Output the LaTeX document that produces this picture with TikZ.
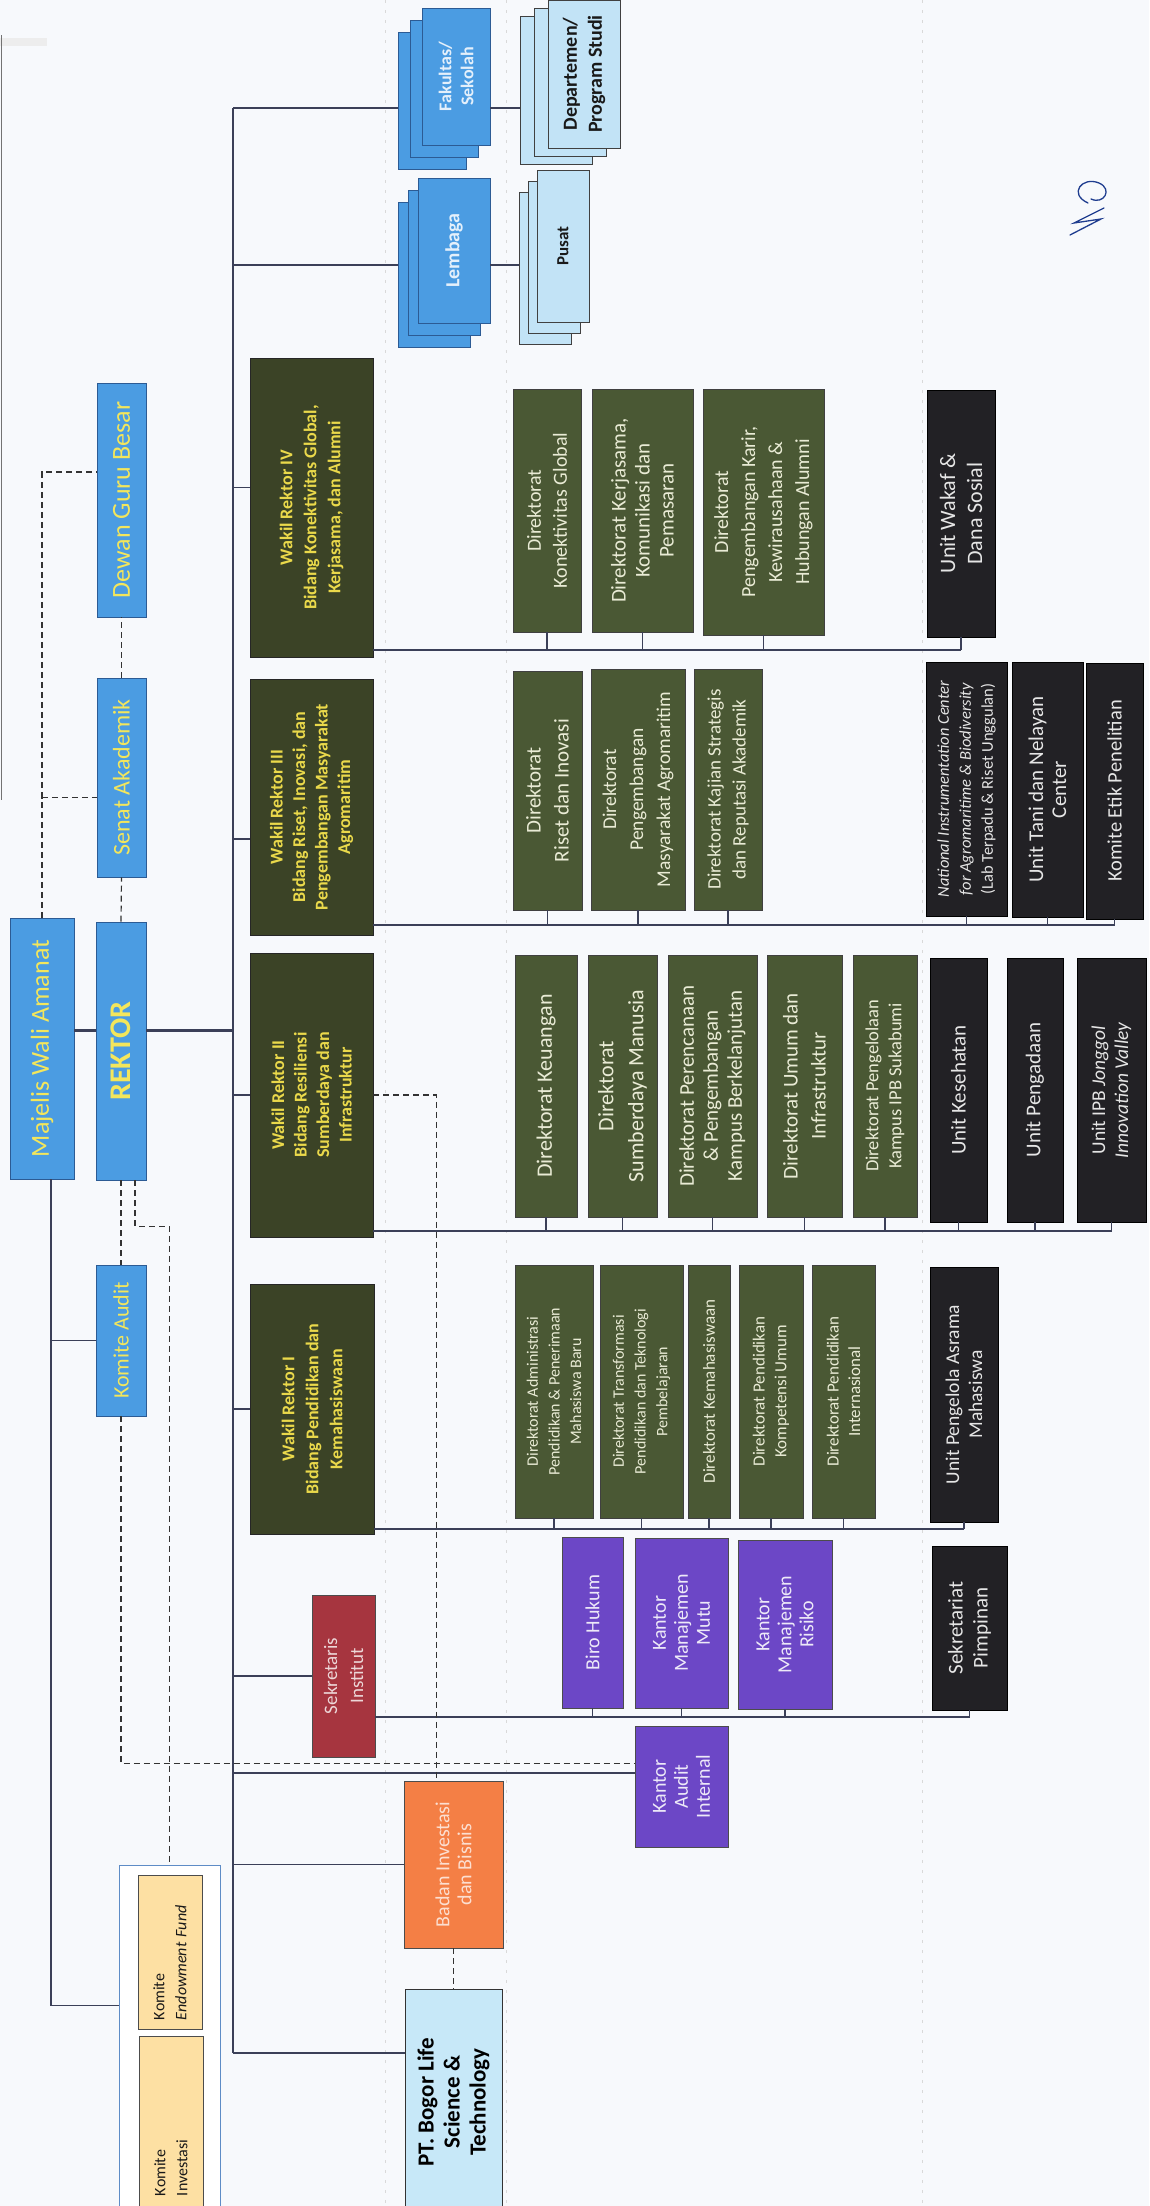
\documentclass[tikz,border=0pt]{standalone}
\usepackage{fontspec}
\setmainfont{Carlito}
\usetikzlibrary{positioning}

\definecolor{paper}{HTML}{F7F9FC}
\definecolor{wablue}{HTML}{4B9CE2}
\definecolor{waedge}{HTML}{2C5B94}
\definecolor{wayellow}{HTML}{F3E65C}
\definecolor{wrgreen}{HTML}{3B4326}
\definecolor{wryellow}{HTML}{EAD94B}
\definecolor{dirgreen}{HTML}{4A5834}
\definecolor{dirtext}{HTML}{E9EBD5}
\definecolor{unitblack}{HTML}{222125}
\definecolor{ofcpurple}{HTML}{6C47C6}
\definecolor{sekred}{HTML}{A6353F}
\definecolor{bizorange}{HTML}{F47F45}
\definecolor{ptblue}{HTML}{C7E8F8}
\definecolor{kmtan}{HTML}{FDE0A3}
\definecolor{kmedge}{HTML}{5E8CC6}
\definecolor{ltblue}{HTML}{C2E3F6}
\definecolor{linegray}{HTML}{3B4058}
\definecolor{inkblue}{HTML}{1F3D8F}

\newcommand{\fsz}[2]{\fontsize{#1}{#2}\selectfont}

\tikzset{
  orgbox/.style={rotate=90, align=center, inner sep=1pt, line width=0.9pt},
  topbox/.style={orgbox, fill=wablue, draw=waedge, text=wayellow, font=\fsz{24}{26}},
  wrbox/.style={orgbox, fill=wrgreen, draw=black!85, text=wryellow, font=\bfseries\fsz{18}{22.5}},
  dirbox/.style={orgbox, fill=dirgreen, draw=black!75, text=dirtext, font=\fsz{20}{26}},
  unitbox/.style={orgbox, fill=unitblack, draw=black, text=white!90!black, font=\fsz{21}{24}},
  ofcbox/.style={orgbox, fill=ofcpurple, draw=black!70, text=white!88!ofcpurple, font=\fsz{20}{22}},
  sekbox/.style={orgbox, fill=sekred, draw=black!70, text=white!80!sekred, font=\fsz{19}{26}},
  bizbox/.style={orgbox, fill=bizorange, draw=black!70, text=white!75!bizorange, font=\fsz{20}{22}},
  ptbox/.style={orgbox, fill=ptblue, draw=black!80, text=black, font=\bfseries\fsz{23}{26}},
  kmbox/.style={orgbox, fill=kmtan, draw=black!70, text=black!90, font=\fsz{16}{22}, text width=136pt, align=left},
  facbox/.style={orgbox, fill=wablue, draw=waedge, text=white!85!wablue, font=\bfseries\fsz{18}{22}},
  subbox/.style={orgbox, fill=ltblue, draw=black!75, text=black!90, font=\bfseries\fsz{20}{25}},
  conn/.style={draw=linegray, line width=1.1pt},
  thickconn/.style={draw=linegray, line width=3pt},
  dconn/.style={draw=black!80, line width=1.2pt, dash pattern=on 6pt off 4pt},
  guide/.style={draw=black!15, line width=0.6pt, dash pattern=on 3pt off 7pt}
}

\begin{document}
\begin{tikzpicture}[x=1pt, y=-1pt]
\useasboundingbox (0,0) rectangle (1149,2206);
\clip (0,0) rectangle (1149,2206);
\fill[paper] (0,0) rectangle (1149,2206);
% faint guides of the scan
\draw[guide] (385,0) -- (385,2206);
\draw[guide] (506,0) -- (506,2206);
\draw[guide] (922,0) -- (922,2206);
\fill[black!7] (0,38) rectangle (47,46);
\draw[black!55, line width=1pt] (1.5,35) -- (1.5,800);

%%% board, rector and committees
\node[topbox, minimum width=261pt, minimum height=64pt, font=\fsz{26}{28}] (majelis) at (42,1048.5) {Majelis Wali Amanat};
\node[topbox, minimum width=258pt, minimum height=50pt, font=\bfseries\fsz{30}{32}] (rektor) at (121,1051) {REKTOR};
\node[topbox, minimum width=199pt, minimum height=49pt] (senat) at (121.5,777.5) {Senat Akademik};
\node[topbox, minimum width=234pt, minimum height=49pt, font=\fsz{26}{28}] (dewan) at (121.5,500) {Dewan Guru Besar};
\node[topbox, minimum width=151pt, minimum height=50pt, font=\fsz{22}{24}] (kaudit) at (121,1340.5) {Komite Audit};
\node[orgbox, draw=kmedge, fill=white, minimum width=365pt, minimum height=101pt] (komite) at (169.5,2047.5) {};
\node[kmbox, minimum width=154pt, minimum height=64pt] (kend) at (170,1952) {Komite\\\textit{Endowment Fund}};
\node[kmbox, minimum width=184pt, minimum height=64pt] (kinv) at (171,2128) {Komite\\Investasi};

%%% vice rectors
\node[wrbox, minimum width=299pt, minimum height=123pt, font=\bfseries\fsz{18}{24}] (wr4) at (311.5,507.5) {Wakil Rektor IV\\Bidang Konektivitas Global,\\Kerjasama, dan Alumni};
\node[wrbox, minimum width=256pt, minimum height=123pt] (wr3) at (311.5,807) {Wakil Rektor III\\Bidang Riset, Inovasi, dan\\Pengembangan Masyarakat\\Agromaritim};
\node[wrbox, minimum width=284pt, minimum height=123pt] (wr2) at (311.5,1095) {Wakil Rektor II\\Bidang Resiliensi\\Sumberdaya dan\\Infrastruktur};
\node[wrbox, minimum width=250pt, minimum height=124pt, font=\bfseries\fsz{18}{24}] (wr1) at (312,1409) {Wakil Rektor I\\Bidang Pendidikan dan\\Kemahasiswaan};
\node[sekbox, minimum width=162pt, minimum height=63pt] (sekins) at (343.5,1676) {Sekretaris\\Institut};
\node[bizbox, minimum width=167pt, minimum height=99pt] (badan) at (453.5,1864.5) {Badan Investasi\\dan Bisnis};
\node[ptbox, minimum width=226pt, minimum height=97pt] (ptb) at (453.5,2102) {PT. Bogor Life\\Science \&\\Technology};

%%% faculties and institutes
\node[facbox, minimum width=137pt, minimum height=68pt] (fak3) at (432,100.5) {};
\node[facbox, minimum width=137pt, minimum height=68pt] (fak2) at (444,88.5) {};
\node[facbox, minimum width=137pt, minimum height=68pt] (fak1) at (456,76.5) {Fakultas/\\Sekolah};
\node[facbox, minimum width=145pt, minimum height=72pt] (lem3) at (434,274.5) {};
\node[facbox, minimum width=145pt, minimum height=72pt] (lem2) at (444,262.5) {};
\node[facbox, minimum width=145pt, minimum height=72pt, font=\bfseries\fsz{20}{22}] (lem1) at (454,250.5) {Lembaga};
\node[subbox, minimum width=148pt, minimum height=72pt] (dep3) at (556,90) {};
\node[subbox, minimum width=148pt, minimum height=72pt] (dep2) at (570,82) {};
\node[subbox, minimum width=148pt, minimum height=72pt] (dep1) at (584,74) {Departemen/\\Program Studi};
\node[subbox, minimum width=152pt, minimum height=52pt] (pus3) at (545,268) {};
\node[subbox, minimum width=152pt, minimum height=52pt] (pus2) at (554,257) {};
\node[subbox, minimum width=152pt, minimum height=52pt, font=\bfseries\fsz{17}{20}] (pus1) at (563,246) {Pusat};

%%% under WR IV
\node[dirbox, minimum width=243pt, minimum height=68pt] (d4a) at (547,510.5) {Direktorat\\Konektivitas Global};
\node[dirbox, minimum width=243pt, minimum height=101pt, font=\fsz{21}{24}] (d4b) at (642.5,510.5) {Direktorat Kerjasama,\\Komunikasi dan\\Pemasaran};
\node[dirbox, minimum width=246pt, minimum height=121pt, font=\fsz{20}{27}] (d4c) at (763.5,512) {Direktorat\\Pengembangan Karir,\\Kewirausahaan \&\\Hubungan Alumni};
\node[unitbox, minimum width=247pt, minimum height=68pt, font=\fsz{22}{27}] (u4a) at (961,513.5) {Unit Wakaf \&\\Dana Sosial};

%%% under WR III
\node[dirbox, minimum width=239pt, minimum height=69pt, font=\fsz{21}{28}] (d3a) at (547.5,790.5) {Direktorat\\Riset dan Inovasi};
\node[dirbox, minimum width=241pt, minimum height=94pt, font=\fsz{19.5}{27}] (d3b) at (638,789.5) {Direktorat\\Pengembangan\\Masyarakat Agromaritim};
\node[dirbox, minimum width=241pt, minimum height=68pt, font=\fsz{19}{25}] (d3c) at (728,789.5) {Direktorat Kajian Strategis\\dan Reputasi Akademik};
\node[unitbox, minimum width=254pt, minimum height=81pt, font=\fsz{16.5}{22}] (u3a) at (966.5,789) {\textit{National Instrumentation Center}\\\textit{for Agromaritime \& Biodiversity}\\(Lab Terpadu \& Riset Unggulan)};
\node[unitbox, minimum width=255pt, minimum height=71pt, font=\fsz{21}{23}] (u3b) at (1047.5,789.5) {Unit Tani dan Nelayan\\Center};
\node[unitbox, minimum width=256pt, minimum height=57pt, font=\fsz{20.5}{23}] (u3c) at (1114.5,791) {Komite Etik Penelitian};

%%% under WR II
\node[dirbox, minimum width=262pt, minimum height=62pt, font=\fsz{22}{27}] (d2a) at (546,1086) {Direktorat Keuangan};
\node[dirbox, minimum width=262pt, minimum height=69pt, font=\fsz{22}{30}] (d2b) at (622.5,1086) {Direktorat\\Sumberdaya Manusia};
\node[dirbox, minimum width=262pt, minimum height=89pt, font=\fsz{21}{24}] (d2c) at (712.5,1086) {Direktorat Perencanaan\\\& Pengembangan\\Kampus Berkelanjutan};
\node[dirbox, minimum width=262pt, minimum height=75pt, font=\fsz{21}{28}] (d2d) at (804.5,1086) {Direktorat Umum dan\\Infrastruktur};
\node[dirbox, minimum width=262pt, minimum height=64pt, font=\fsz{18.5}{23}] (d2e) at (885,1086) {Direktorat Pengelolaan\\Kampus IPB Sukabumi};
\node[unitbox, minimum width=264pt, minimum height=57pt, font=\fsz{21}{24}] (u2a) at (958.5,1090) {Unit Kesehatan};
\node[unitbox, minimum width=264pt, minimum height=56pt, font=\fsz{21}{24}] (u2b) at (1035,1090) {Unit Pengadaan};
\node[unitbox, minimum width=264pt, minimum height=69pt, font=\fsz{19.5}{23}] (u2c) at (1111.5,1090) {Unit IPB \textit{Jonggol}\\\textit{Innovation Valley}};

%%% under WR I
\node[dirbox, minimum width=253pt, minimum height=78pt, font=\fsz{16}{21.7}] (d1a) at (554,1391.5) {Direktorat Administrasi\\Pendidikan \& Penerimaan\\Mahasiswa Baru};
\node[dirbox, minimum width=253pt, minimum height=83pt, font=\fsz{16}{21.7}] (d1b) at (641.5,1391.5) {Direktorat Transformasi\\Pendidikan dan Teknologi\\Pembelajaran};
\node[dirbox, minimum width=253pt, minimum height=42pt, font=\fsz{17}{21.7}] (d1c) at (709,1391.5) {Direktorat Kemahasiswaan};
\node[dirbox, minimum width=253pt, minimum height=64pt, font=\fsz{17}{21.7}] (d1d) at (771,1391.5) {Direktorat Pendidikan\\Kompetensi Umum};
\node[dirbox, minimum width=253pt, minimum height=63pt, font=\fsz{17}{21.7}] (d1e) at (843.5,1391.5) {Direktorat Pendidikan\\Internasional};
\node[unitbox, minimum width=255pt, minimum height=68pt, font=\fsz{19.5}{23}] (u1a) at (964,1394.5) {Unit Pengelola Asrama\\Mahasiswa};

%%% under Sekretaris Institut
\node[ofcbox, minimum width=171pt, minimum height=61pt] (biro) at (592.5,1622.5) {Biro Hukum};
\node[ofcbox, minimum width=170pt, minimum height=93pt] (kmm) at (681.5,1623) {Kantor\\Manajemen\\Mutu};
\node[ofcbox, minimum width=169pt, minimum height=94pt] (kmr) at (785,1624.5) {Kantor\\Manajemen\\Risiko};
\node[unitbox, minimum width=164pt, minimum height=75pt, font=\fsz{21}{25}] (sekpim) at (969.5,1628) {Sekretariat\\Pimpinan};
\node[ofcbox, minimum width=121pt, minimum height=93pt] (kai) at (681.5,1786.5) {Kantor\\Audit\\Internal};

%%% solid lines
\coordinate (spine) at (233,0);
\coordinate (lvfak) at (0,108);
\coordinate (lvlem) at (0,265);
\coordinate (lvrek) at (0,1030);
\coordinate (lvkai) at (0,1773);
\coordinate (lvpt) at (0,2053);
\coordinate (bus4) at (0,650);
\coordinate (bus3) at (0,925);
\coordinate (bus2) at (0,1231);
\coordinate (bus1) at (0,1529);
\coordinate (bussek) at (0,1717);
\draw[thickconn] (majelis.south |- lvrek) -- (rektor.north |- lvrek);
\draw[thickconn] (rektor.south |- lvrek) -- (spine |- lvrek);
\draw[conn] ([xshift=9pt]majelis.west) |- ([yshift=42pt]komite.north);
\draw[conn] ([xshift=9pt]majelis.west |- kaudit.north) -- (kaudit.north);
\draw[conn] (spine |- lvfak) -- (spine |- lvpt);
\draw[conn] (spine |- lvfak) -- (fak3.north |- lvfak);
\draw[conn] (spine |- lvlem) -- (lem3.north |- lvlem);
\draw[conn] (fak1.south |- lvfak) -- (dep3.north |- lvfak);
\draw[conn] (lem1.south |- lvlem) -- (pus3.north |- lvlem);
\draw[conn] ([yshift=20pt]wr4.north -| spine) -- ([yshift=20pt]wr4.north);
\draw[conn] ([yshift=-32pt]wr3.north -| spine) -- ([yshift=-32pt]wr3.north);
\draw[conn] (spine |- wr2.north) -- (wr2.north);
\draw[conn] (spine |- wr1.north) -- (wr1.north);
\draw[conn] (spine |- sekins.north) -- (sekins.north);
\draw[conn] (spine |- lvkai) -- (kai.north |- lvkai);
\draw[conn] (spine |- badan.north) -- (badan.north);
\draw[conn] (spine |- lvpt) -- (ptb.north |- lvpt);
% buses to the directorates
\draw[conn] (wr4.south |- bus4) -- (u4a.west |- bus4);
\foreach \n in {d4a,d4b,d4c,u4a} \draw[conn] (\n.west) -- (\n.west |- bus4);
\draw[conn] (wr3.south |- bus3) -- (u3c.west |- bus3);
\foreach \n in {d3a,d3b,d3c,u3a,u3b,u3c} \draw[conn] (\n.west) -- (\n.west |- bus3);
\draw[conn] (wr2.south |- bus2) -- (u2c.west |- bus2);
\foreach \n in {d2a,d2b,d2c,d2d,d2e,u2a,u2b,u2c} \draw[conn] (\n.west) -- (\n.west |- bus2);
\draw[conn] (wr1.south |- bus1) -- (u1a.west |- bus1);
\foreach \n in {d1a,d1b,d1c,d1d,d1e,u1a} \draw[conn] (\n.west) -- (\n.west |- bus1);
\draw[conn] (sekins.south |- bussek) -- (sekpim.west |- bussek);
\foreach \n in {biro,kmm,kmr,sekpim} \draw[conn] (\n.west) -- (\n.west |- bussek);

%%% dashed lines
\draw[dconn] (majelis.east) |- ([yshift=28pt]dewan.north);
\draw[dconn] (majelis.east) |- ([yshift=-20pt]senat.north);
\draw[dconn] (rektor.east) -- (senat.west);
\draw[dconn] (senat.east) -- (dewan.west);
\draw[dconn] (rektor.west) -- (kaudit.east);
\draw[dconn] ([xshift=14pt]rektor.west) -- ++(0,46) -| (komite.east);
\draw[dconn] (kaudit.west) |- ([yshift=23pt]kai.north);
\draw[dconn] (wr2.south) -| ([xshift=-17pt]badan.east);
\draw[dconn] (badan.west) -- (ptb.east);

% paraf
\draw[inkblue, line width=1.3pt, line cap=round]
  (1070,235) -- (1101,219) -- (1074,223) -- (1104,208)
  (1088,203) .. controls (1068,194) and (1082,176) .. (1099,183) .. controls (1113,189) and (1104,205) .. (1091,199);
\end{tikzpicture}
\end{document}
